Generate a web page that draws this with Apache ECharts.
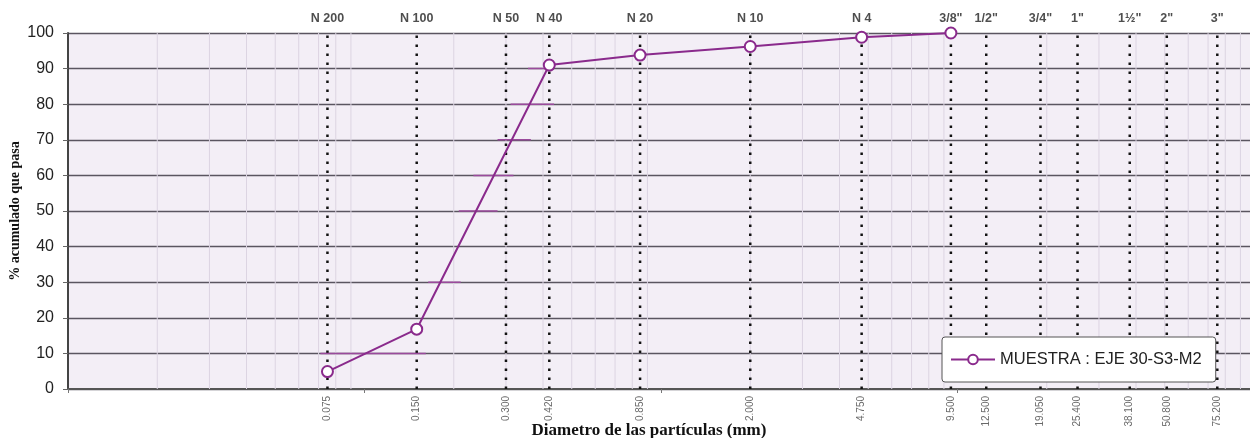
<!DOCTYPE html>
<html>
<head>
<meta charset="utf-8">
<script src="https://cdn.jsdelivr.net/npm/echarts@6/dist/echarts.min.js"></script>
<style>
html,body{margin:0;padding:0;background:#fff;}
#chart{width:1250px;height:438px;}
</style>
</head>
<body>
<div id="chart"></div>
<script>
// ---- data ----
const sieveSizes = [0.075, 0.150, 0.300, 0.420, 0.850, 2.000, 4.750, 9.500, 12.500, 19.050, 25.400, 38.100, 50.800, 75.200];
const sieveNames = ['N 200', 'N 100', 'N 50', 'N 40', 'N 20', 'N 10', 'N 4', '3/8"', '1/2"', '3/4"', '1"', '1½"', '2"', '3"'];
const sizeLabels = ['0.075', '0.150', '0.300', '0.420', '0.850', '2.000', '4.750', '9.500', '12.500', '19.050', '25.400', '38.100', '50.800', '75.200'];
const sampleName = 'MUESTRA : EJE 30-S3-M2';
const sampleSizes = [0.075, 0.150, 0.420, 0.850, 2.000, 4.750, 9.500];
const samplePassing = [4.9, 16.8, 91.0, 93.8, 96.2, 98.8, 100];
// short construction strokes (x from, x to, y)
const constructionFrom = [0.071, 0.164, 0.208, 0.233, 0.281, 0.311, 0.356];
const constructionTo   = [0.161, 0.211, 0.281, 0.318, 0.364, 0.436, 0.425];
const constructionY    = [10, 30, 50, 60, 70, 80, 90];
const logDecades = [0.01, 0.1, 1, 10];
const minorSteps = [2, 3, 4, 5, 6, 7, 8, 9];

// ---- build ----
const Y_MIN = 0, Y_MAX = 100;
const minorGrid = [];
logDecades.forEach(d => minorSteps.forEach(m => {
  const v = +(d * m).toPrecision(3);
  minorGrid.push([v, Y_MIN], [v, Y_MAX], '-');
}));

const sieveLines = [];
sieveSizes.forEach(v => sieveLines.push([v, Y_MIN], [v, Y_MAX], '-'));

const construction = [];
constructionY.forEach((y, i) => {
  construction.push([constructionFrom[i], y], [constructionTo[i], y], '-');
});

const purple = '#8a2a8c';
const sans = 'Liberation Sans, Arial';

const chart = echarts.init(document.getElementById('chart'), null, { renderer: 'canvas' });
chart.setOption({
  animation: false,
  backgroundColor: '#ffffff',
  grid: {
    left: 68, right: -4, top: 33, bottom: 49,
    outerBoundsMode: 'none', containLabel: false,
    show: true, backgroundColor: '#f3eef6', borderWidth: 0
  },
  legend: {
    data: [sampleName],
    left: 942, top: 337, z: 30,
    padding: [14, 14, 14, 8],
    backgroundColor: '#ffffff',
    borderColor: '#555',
    borderWidth: 1,
    borderRadius: 3,
    itemWidth: 44, itemHeight: 12, itemGap: 6,
    textStyle: { fontFamily: sans, fontSize: 16.5, color: '#222' }
  },
  xAxis: {
    type: 'log', logBase: 10, min: 0.01, max: 100,
    name: 'Diametro de las partículas (mm)',
    nameLocation: 'middle', nameGap: 33,
    nameTextStyle: { fontFamily: 'Liberation Serif, Times New Roman', fontWeight: 'bold', fontSize: 17, color: '#111', padding: [0, 24, 0, 0] },
    axisLine: { show: true, lineStyle: { color: '#555', width: 2 } },
    axisTick: { show: true, length: 4, lineStyle: { color: '#777' } },
    axisLabel: { show: false },
    splitLine: { show: false }
  },
  yAxis: {
    type: 'value', min: Y_MIN, max: Y_MAX, interval: 10,
    name: '% acumulado que pasa',
    nameLocation: 'middle', nameGap: 46, nameRotate: 90, nameMoveOverlap: false,
    nameTextStyle: { fontFamily: 'Liberation Serif, Times New Roman', fontWeight: 'bold', fontSize: 14, color: '#111' },
    axisLine: { show: true, lineStyle: { color: '#444', width: 2 } },
    axisTick: { show: true, length: 5, lineStyle: { color: '#666' } },
    axisLabel: { fontFamily: sans, fontSize: 16, color: '#222', margin: 14 },
    splitLine: { show: true, lineStyle: { color: '#5a5560', width: 1.3 } }
  },
  series: [
    {
      name: 'minor', type: 'line', silent: true, z: 1,
      data: minorGrid, symbol: 'none', connectNulls: false,
      lineStyle: { color: '#dcd4e2', width: 1 }
    },
    {
      name: 'sieves', type: 'line', silent: true, z: 3,
      data: sieveLines, symbol: 'none', connectNulls: false,
      lineStyle: { color: '#111', width: 2.5, type: [2.5, 6.5] }
    },
    {
      name: 'sieveNames', type: 'scatter', silent: true, symbolSize: 0, z: 3,
      data: sieveSizes.map((v, i) => ({ value: [v, Y_MAX], name: sieveNames[i] })),
      label: {
        show: true, position: 'top', distance: 8, formatter: '{b}',
        fontFamily: sans, fontSize: 12.5, fontWeight: 'bold', color: '#222'
      }
    },
    {
      name: 'sizeLabels', type: 'scatter', silent: true, symbolSize: 0, z: 3,
      data: sieveSizes.map((v, i) => ({ value: [v, Y_MIN], name: sizeLabels[i] })),
      label: {
        show: true, position: 'bottom', distance: 7, rotate: 90,
        align: 'right', verticalAlign: 'middle',
        formatter: '{b}', fontFamily: sans, fontSize: 10, color: '#444'
      }
    },
    {
      name: 'construction', type: 'line', silent: true, z: 4,
      data: construction, symbol: 'none', connectNulls: false,
      lineStyle: { color: '#9a4a9c', width: 1.5 }
    },
    {
      name: sampleName, type: 'line', z: 10,
      data: sampleSizes.map((v, i) => [v, samplePassing[i]]),
      symbol: 'emptyCircle', symbolSize: 11,
      lineStyle: { color: purple, width: 2 },
      itemStyle: { color: purple, borderColor: purple, borderWidth: 2 }
    }
  ]
});
</script>
</body>
</html>
